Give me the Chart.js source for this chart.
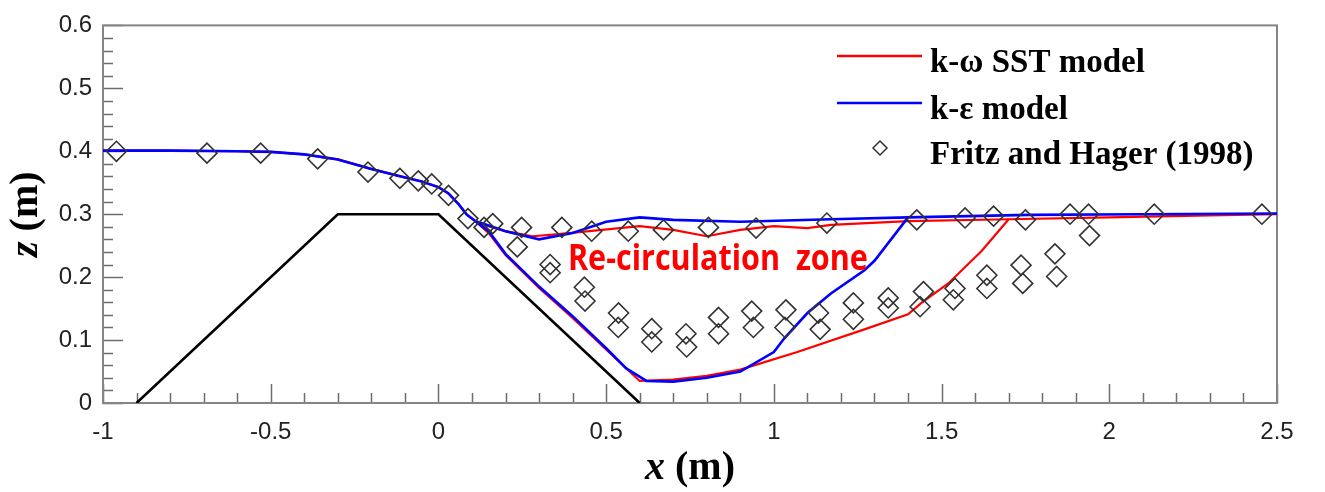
<!DOCTYPE html>
<html>
<head>
<meta charset="utf-8">
<script src="https://cdn.jsdelivr.net/npm/chart.js@4.4.0/dist/chart.umd.min.js"></script>
<style>
  html, body { margin: 0; padding: 0; background: #fff; }
  #wrap { width: 1325px; height: 492px; }
</style>
</head>
<body>
<div id="wrap"><canvas id="profile-chart" width="1325" height="492"></canvas></div>
<script>
/* ================================================
   Flow profile over a trapezoidal weir
   ================================================ */

// axis ticks
const xTicks = [-1, -0.5, 0, 0.5, 1, 1.5, 2, 2.5];
const zTicks = [0, 0.1, 0.2, 0.3, 0.4, 0.5, 0.6];

// weir body
const weirX = [-0.9, -0.3, 0, 0.6];
const weirZ = [0, 0.3, 0.3, 0];

// upstream free surface (both models coincide)
const upX = [-1, -0.8, -0.6, -0.5, -0.4, -0.3, -0.2, -0.12, -0.05, 0, 0.03, 0.06, 0.085, 0.11];
const upZ = [0.401, 0.401, 0.400, 0.399, 0.395, 0.387, 0.372, 0.361, 0.352, 0.343, 0.333, 0.316, 0.299, 0.289];

// k-omega SST : upper surface downstream of split, and lower jet
const sstSurfX = [0.15, 0.2, 0.28, 0.35, 0.45, 0.6, 0.7, 0.8, 0.9, 1.0, 1.1, 1.17, 1.4, 1.7, 2.0, 2.3, 2.5];
const sstSurfZ = [0.281, 0.273, 0.265, 0.268, 0.273, 0.281, 0.275, 0.265, 0.275, 0.281, 0.278, 0.283, 0.289, 0.292, 0.295, 0.298, 0.300];
const sstJetX = [0.11, 0.15, 0.2, 0.3, 0.4, 0.5, 0.6, 0.7, 0.8, 0.9, 1.07, 1.27, 1.4, 1.44, 1.52, 1.62, 1.7];
const sstJetZ = [0.289, 0.27, 0.235, 0.183, 0.135, 0.085, 0.035, 0.037, 0.043, 0.053, 0.081, 0.117, 0.141, 0.159, 0.19, 0.242, 0.292];

// k-epsilon
const keSurfX = [0.15, 0.2, 0.3, 0.4, 0.5, 0.6, 0.7, 0.9, 1.17, 1.4, 1.76, 2.1, 2.5];
const keSurfZ = [0.282, 0.273, 0.26, 0.27, 0.288, 0.295, 0.291, 0.288, 0.292, 0.295, 0.299, 0.300, 0.301];
const keJetX = [0.11, 0.15, 0.2, 0.3, 0.4, 0.5, 0.56, 0.62, 0.7, 0.8, 0.9, 1.0, 1.03, 1.1, 1.17, 1.27, 1.3, 1.4];
const keJetZ = [0.289, 0.273, 0.237, 0.185, 0.138, 0.087, 0.055, 0.035, 0.034, 0.04, 0.05, 0.081, 0.102, 0.143, 0.174, 0.211, 0.226, 0.295];

// Fritz and Hager (1998) measurements
const fhX = [-0.96, -0.69, -0.53, -0.36, -0.21, -0.115, -0.06, -0.02, 0.03, 0.088, 0.136, 0.162,
             0.248, 0.235, 0.368, 0.333, 0.333, 0.457, 0.435, 0.437, 0.566, 0.537, 0.536,
             0.671, 0.636, 0.636, 0.738, 0.740, 0.805, 0.835, 0.835, 0.947, 0.934, 0.939,
             1.036, 1.033, 1.158, 1.133, 1.138, 1.237, 1.237, 1.341, 1.341, 1.426, 1.446, 1.436,
             1.57, 1.54, 1.535, 1.655, 1.635, 1.635, 1.75, 1.737, 1.742, 1.883, 1.838, 1.843,
             1.938, 1.941, 2.134, 2.455];
const fhZ = [0.400, 0.397, 0.397, 0.388, 0.367, 0.357, 0.353, 0.348, 0.330, 0.293, 0.279, 0.285,
             0.279, 0.248, 0.279, 0.220, 0.207, 0.273, 0.184, 0.162, 0.273, 0.143, 0.120,
             0.275, 0.118, 0.097, 0.110, 0.089, 0.279, 0.136, 0.110, 0.278, 0.146, 0.120,
             0.148, 0.120, 0.286, 0.143, 0.117, 0.159, 0.133, 0.167, 0.151, 0.291, 0.177, 0.153,
             0.294, 0.182, 0.164, 0.297, 0.203, 0.182, 0.291, 0.219, 0.190, 0.300, 0.237, 0.201,
             0.300, 0.266, 0.300, 0.300];

const pts = (xs, zs) => xs.map((x, i) => ({ x, y: zs[i] }));

function lineSet(label, xs, zs, color, width, order, legend) {
  return { label, data: pts(xs, zs), showLine: true, borderColor: color, backgroundColor: color,
           borderWidth: width, pointRadius: 0, tension: 0, fill: false, order, inLegend: legend };
}

// draw text pieces side by side, centred on (cx, cy)
function drawMixed(ctx, parts, cx, cy) {
  let w = 0;
  parts.forEach(p => { ctx.font = p.font; w += ctx.measureText(p.text).width; });
  let x0 = cx - w / 2;
  parts.forEach(p => { ctx.font = p.font; ctx.fillText(p.text, x0, cy); x0 += ctx.measureText(p.text).width; });
}

const framePlugin = {
  id: 'frame',
  beforeDatasetsDraw(chart) {
    const { ctx, chartArea: a, scales: { x, y } } = chart;
    ctx.save();
    ctx.strokeStyle = '#6e6e6e'; ctx.lineWidth = 1.5;
    for (let i = -10; i <= 25; i++) {            // x ticks every 0.1, major every 0.5
      const px = Math.round(x.getPixelForValue(i / 10)) + 0.5;
      const len = i % 5 === 0 ? 19 : 10;
      ctx.beginPath(); ctx.moveTo(px, a.bottom); ctx.lineTo(px, a.bottom - len); ctx.stroke();
    }
    for (let j = 0; j <= 30; j++) {              // z ticks every 0.02, major every 0.1
      const py = Math.round(y.getPixelForValue(j / 50)) + 0.5;
      const len = j % 5 === 0 ? 20 : 10;
      ctx.beginPath(); ctx.moveTo(a.left, py); ctx.lineTo(a.left + len, py); ctx.stroke();
    }
    ctx.strokeStyle = '#858585'; ctx.lineWidth = 2;
    ctx.strokeRect(a.left, a.top, a.right - a.left, a.bottom - a.top);
    ctx.restore();
  },
  afterDatasetsDraw(chart) {
    const { ctx, chartArea: a, scales: { x, y } } = chart;
    ctx.save();

    // annotation
    ctx.fillStyle = '#ff0000';
    ctx.font = 'bold 35px "Open Sans"';
    ctx.textBaseline = 'alphabetic'; ctx.textAlign = 'left';
    const note = 'Re-circulation  zone';
    const nw = ctx.measureText(note).width;
    ctx.save();
    ctx.translate(x.getPixelForValue(0.386), y.getPixelForValue(0.211));
    ctx.scale(300 / nw, 1);
    ctx.fillText(note, 0, 0);
    ctx.restore();

    // legend
    const rows = chart.data.datasets.filter(d => d.inLegend);
    ctx.font = 'bold 33px "Liberation Serif"';
    ctx.fillStyle = '#000';
    rows.forEach((d, i) => {
      const ly = [56, 103, 148][i];
      if (d.showLine) {
        ctx.strokeStyle = d.borderColor; ctx.lineWidth = 2.5;
        ctx.beginPath(); ctx.moveTo(837, ly); ctx.lineTo(922, ly); ctx.stroke();
      } else {
        const r = 7;
        ctx.strokeStyle = '#333'; ctx.lineWidth = 1.5;
        ctx.beginPath(); ctx.moveTo(880, ly - r); ctx.lineTo(880 + r, ly); ctx.lineTo(880, ly + r);
        ctx.lineTo(880 - r, ly); ctx.closePath(); ctx.stroke();
      }
      ctx.fillText(d.label, 930, ly + 16);
    });

    // axis titles
    ctx.fillStyle = '#000';
    ctx.textBaseline = 'middle';
    drawMixed(ctx, [{ text: 'x', font: 'italic bold 40px "Liberation Serif"' },
                    { text: ' (m)', font: 'bold 40px "Liberation Serif"' }],
              (a.left + a.right) / 2, 469);
    ctx.translate(27, (a.top + a.bottom) / 2);
    ctx.rotate(-Math.PI / 2);
    drawMixed(ctx, [{ text: 'z', font: 'italic bold 40px "Liberation Serif"' },
                    { text: ' (m)', font: 'bold 40px "Liberation Serif"' }], 0, 0);
    ctx.restore();
  },
};

const tickFont = { family: '"Liberation Sans", Arial', size: 24 };

new Chart(document.getElementById('profile-chart'), {
  type: 'scatter',
  data: {
    datasets: [
      lineSet('k-\u03c9 SST model', upX.concat(sstSurfX), upZ.concat(sstSurfZ), '#ff0000', 2.2, 2, true),
      lineSet('k-\u03b5 model', upX.concat(keSurfX), upZ.concat(keSurfZ), '#0000ff', 2.6, 1, true),
      { label: 'Fritz and Hager (1998)', data: pts(fhX, fhZ), pointStyle: 'rectRot', pointRadius: 10,
        borderColor: '#333', borderWidth: 1.6, backgroundColor: 'rgba(0,0,0,0)', order: 0, inLegend: true },
      lineSet('sst jet', sstJetX, sstJetZ, '#ff0000', 2.2, 2, false),
      lineSet('ke jet', keJetX, keJetZ, '#0000ff', 2.6, 1, false),
      lineSet('weir', weirX, weirZ, '#000000', 2.6, 3, false),
    ],
  },
  options: {
    responsive: false, animation: false, events: [],
    layout: { padding: { top: 16, right: 48, left: 0, bottom: 0 } },
    plugins: { legend: { display: false }, tooltip: { enabled: false } },
    scales: {
      x: { type: 'linear', min: -1, max: 2.5,
           afterBuildTicks: s => { s.ticks = xTicks.map(v => ({ value: v })); },
           afterFit: s => { s.height = 89; },
           grid: { display: false, drawTicks: false }, border: { display: false },
           ticks: { font: tickFont, color: '#222', padding: 15, maxRotation: 0,
                    callback: v => String(v) } },
      y: { type: 'linear', min: 0, max: 0.6,
           afterBuildTicks: s => { s.ticks = zTicks.map(v => ({ value: v })); },
           afterFit: s => { s.width = 103; },
           grid: { display: false, drawTicks: false }, border: { display: false },
           ticks: { font: tickFont, color: '#222', padding: 11,
                    callback: v => String(v) } },
    },
  },
  plugins: [framePlugin],
});
</script>
</body>
</html>
